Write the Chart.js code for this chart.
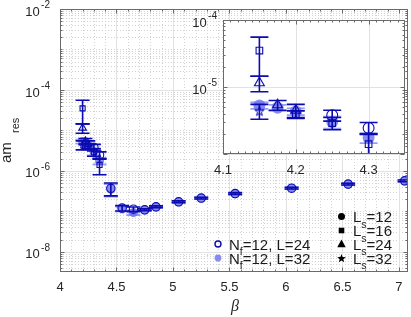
<!DOCTYPE html>
<html><head><meta charset="utf-8">
<script src="https://cdn.jsdelivr.net/npm/chart.js@4.4.1/dist/chart.umd.min.js"></script>
<style>
html,body{margin:0;padding:0;background:#fff;}
#wrap{position:relative;width:411px;height:317px;overflow:hidden;background:#fff;}
#main{position:absolute;left:0;top:0;width:411px;height:317px;}
#inset{position:absolute;left:190px;top:0;width:221px;height:185px;}
</style></head><body>
<div id="wrap"><canvas id="main" width="411" height="317"></canvas><canvas id="inset" width="221" height="185"></canvas></div>
<script>
// ---------------- data ----------------
// beta values as read on the inset axis; on the main panel the same groups sit 0.05 further right
const mainBetaOffset = 0.05;

// N_f=12, L=24 (open, dark)
const betaL24Ls12 = [4.25, 4.3, 4.4, 4.5, 4.6, 4.7, 4.8, 5.0, 5.2, 5.5, 6.0, 6.5, 7.0];
const mresL24Ls12 = [3.8e-6, 2.45e-6, 3.7e-7, 1.2e-7, 1.13e-7, 1.09e-7, 1.29e-7, 1.72e-7, 2.12e-7, 2.75e-7, 3.74e-7, 4.7e-7, 5.66e-7];
const errL24Ls12  = [0.7e-6, 0.5e-6, 1.3e-7, 1.8e-8, 1.5e-8, 0.6e-8, 0.7e-8, 0.9e-8, 1.1e-8, 1.4e-8, 1.9e-8, 2.4e-8, 2.8e-8];

const betaL24Ls16 = [4.15, 4.2, 4.25, 4.3];
const mresL24Ls16 = [3.5e-5, 3.9e-6, 2.9e-6, 1.4e-6];
const errL24Ls16  = [2.05e-5, 0.5e-6, 0.6e-6, 0.6e-6];

const betaL24Ls24 = [4.15, 4.175, 4.2];
const mresL24Ls24 = [1.15e-5, 5.4e-6, 4.5e-6];
const errL24Ls24  = [3.0e-6, 0.9e-6, 1.0e-6];

const betaL24Ls32 = [4.15];
const mresL24Ls32 = [4.4e-6];
const errL24Ls32  = [1.1e-6];

// N_f=12, L=32 (filled, light)
const betaL32 = [4.15, 4.175, 4.2, 4.25, 4.3, 4.4, 4.5, 4.6, 4.7, 4.8, 5.0, 5.2, 5.5, 6.0, 6.5, 7.0];
const mresL32 = [5.3e-6, 4.9e-6, 4.3e-6, 3.0e-6, 1.75e-6, 3.5e-7, 1.15e-7, 9.3e-8, 1.07e-7, 1.27e-7, 1.7e-7, 2.1e-7, 2.72e-7, 3.7e-7, 4.65e-7, 5.6e-7];
const errL32  = [0.6e-6, 0.5e-6, 0.5e-6, 0.6e-6, 0.3e-6, 1.2e-7, 1.5e-8, 1.2e-8, 0.5e-8, 0.6e-8, 0.8e-8, 1.0e-8, 1.3e-8, 1.8e-8, 2.2e-8, 2.6e-8];

// ticks
const mainXTicks = [4, 4.5, 5, 5.5, 6, 6.5, 7];
const mainXTickLabels = ['4', '4.5', '5', '5.5', '6', '6.5', '7'];
const mainYTicks = [1e-8, 1e-6, 1e-4, 1e-2];
const mainYTickExp = ['-8', '-6', '-4', '-2'];
const insetXTicks = [4.1, 4.2, 4.3];
const insetXTickLabels = ['4.1', '4.2', '4.3'];
const insetYTicks = [1e-5, 1e-4];
const insetYTickExp = ['-5', '-4'];

// legend texts
const seriesLegend = [['N', 'f', '=12, L=24'], ['N', 'f', '=12, L=32']];
const lsLegend = [['L', 's', '=12'], ['L', 's', '=16'], ['L', 's', '=24'], ['L', 's', '=32']];

// ---------------- styling ----------------
const DARK = '#0b0bb0';
const LIGHT = 'rgba(108,116,238,0.82)';
const LIGHT_BAR = 'rgba(108,116,238,0.7)';
const FONT = '"Liberation Sans", Arial, Helvetica, sans-serif';
const AXIS = '#6a6a6a';

function starCanvas(r, fill, stroke, lw) {
  const s = Math.ceil(2 * r + 2 * lw + 3);
  const c = document.createElement('canvas'); c.width = s; c.height = s;
  const g = c.getContext('2d');
  g.translate(s / 2, s / 2 + r * 0.1);
  g.beginPath();
  for (let i = 0; i < 10; i++) {
    const ang = -Math.PI / 2 + i * Math.PI / 5;
    const rr = i % 2 ? r * 0.4 : r;
    g.lineTo(rr * Math.cos(ang), rr * Math.sin(ang));
  }
  g.closePath();
  if (fill) { g.fillStyle = fill; g.fill(); }
  if (stroke) { g.strokeStyle = stroke; g.lineWidth = lw; g.stroke(); }
  return c;
}

function buildDatasets(shift, big) {
  const k = big ? 1.3 : 1;
  const cap = big ? 9 : 7;
  const mk = (label, b, m, e, style, r, open) => ({
    label,
    data: b.map((v, i) => ({ x: v + shift, y: m[i] })),
    errors: e,
    pointStyle: style,
    pointRadius: r * k,
    pointBorderWidth: open ? 1.1 : 0,
    pointBorderColor: open ? DARK : LIGHT,
    pointBackgroundColor: open ? 'rgba(0,0,0,0)' : LIGHT,
    showLine: false,
    barColor: open ? DARK : LIGHT_BAR,
    barWidth: open ? 1.6 : 1.8,
    capHalf: cap
  });
  return [
    mk('L24 Ls16', betaL24Ls16, mresL24Ls16, errL24Ls16, 'rect', 3.6, true),
    mk('L24 Ls24', betaL24Ls24, mresL24Ls24, errL24Ls24, 'triangle', 4.4, true),
    mk('L24 Ls32', betaL24Ls32, mresL24Ls32, errL24Ls32, starCanvas(big ? 5 : 3.8, null, DARK, 1), 4, true),
    mk('L24 Ls12', betaL24Ls12, mresL24Ls12, errL24Ls12, 'circle', 4.2, true),
    mk('L32', betaL32, mresL32, errL32, 'circle', 4.6, false)
  ];
}

const errorBarPlugin = {
  id: 'errbars',
  beforeDatasetDraw(chart, args) {
    const ds = chart.data.datasets[args.index];
    if (!ds.errors) return;
    const { ctx, chartArea: a, scales: { x, y } } = chart;
    ctx.save();
    ctx.beginPath(); ctx.rect(a.left, a.top, a.right - a.left, a.bottom - a.top); ctx.clip();
    ctx.strokeStyle = ds.barColor; ctx.lineWidth = ds.barWidth;
    ctx.beginPath();
    ds.data.forEach((p, i) => {
      const e = ds.errors[i];
      const px = x.getPixelForValue(p.x);
      const yt = y.getPixelForValue(p.y + e);
      const yb = y.getPixelForValue(Math.max(p.y - e, 1e-12));
      ctx.moveTo(px, yt); ctx.lineTo(px, yb);
      ctx.moveTo(px - ds.capHalf, yt); ctx.lineTo(px + ds.capHalf, yt);
      ctx.moveTo(px - ds.capHalf, yb); ctx.lineTo(px + ds.capHalf, yb);
    });
    ctx.stroke();
    ctx.restore();
  }
};

function logList(lo, hi) {
  const out = [];
  for (let k = Math.floor(Math.log10(lo)) - 1; k <= Math.ceil(Math.log10(hi)); k++) {
    for (let m = 1; m <= 9; m++) {
      const v = m * Math.pow(10, k);
      if (v >= lo * 0.999 && v <= hi * 1.001) out.push({ v, decade: m === 1, k });
    }
  }
  return out;
}

function drawFrame(chart, o) {
  const { ctx, chartArea: a, scales: { x, y } } = chart;
  const X = v => Math.round(x.getPixelForValue(v)) + 0.5;
  const Y = v => Math.round(y.getPixelForValue(v)) + 0.5;
  ctx.save();
  ctx.lineWidth = 1;
  if (o.minorGrid) {
    ctx.strokeStyle = '#d2d2d2'; ctx.setLineDash([1, 2]);
    ctx.beginPath();
    o.xMinor.forEach(v => { const p = X(v); ctx.moveTo(p, a.top); ctx.lineTo(p, a.bottom); });
    o.yMinor.forEach(v => { const p = Y(v); ctx.moveTo(a.left, p); ctx.lineTo(a.right, p); });
    ctx.stroke(); ctx.setLineDash([]);
  }
  ctx.strokeStyle = '#e2e2e2';
  ctx.beginPath();
  o.xMajor.forEach(v => { const p = X(v); ctx.moveTo(p, a.top); ctx.lineTo(p, a.bottom); });
  o.yMajor.forEach(v => { const p = Y(v); ctx.moveTo(a.left, p); ctx.lineTo(a.right, p); });
  ctx.stroke();
  ctx.restore();
}

function drawBoxTicks(chart, o) {
  const { ctx, chartArea: a, scales: { x, y } } = chart;
  const X = v => Math.round(x.getPixelForValue(v)) + 0.5;
  const Y = v => Math.round(y.getPixelForValue(v)) + 0.5;
  const L = Math.round(a.left) + 0.5, R = Math.round(a.right) - 0.5;
  const T = Math.round(a.top) + 0.5, B = Math.round(a.bottom) - 0.5;
  ctx.save();
  ctx.strokeStyle = AXIS; ctx.lineWidth = 1;
  ctx.beginPath();
  const tx = (v, len) => { const p = X(v); ctx.moveTo(p, B); ctx.lineTo(p, B - len); ctx.moveTo(p, T); ctx.lineTo(p, T + len); };
  const ty = (v, len) => { const p = Y(v); ctx.moveTo(L, p); ctx.lineTo(L + len, p); ctx.moveTo(R, p); ctx.lineTo(R - len, p); };
  o.xMajor.forEach(v => tx(v, o.majLen)); o.xMinor.forEach(v => tx(v, o.minLen));
  o.yMajor.forEach(v => ty(v, o.majLen)); o.yMinor.forEach(v => ty(v, o.minLen));
  ctx.stroke();
  ctx.strokeRect(L, T, R - L, B - T);
  ctx.restore();
}

function drawPow(ctx, rightX, gy, exp) {
  ctx.save();
  ctx.fillStyle = '#262626';
  ctx.textBaseline = 'middle'; ctx.textAlign = 'left';
  ctx.font = '10px ' + FONT; const ws = ctx.measureText(exp).width;
  ctx.font = '13px ' + FONT; const wb = ctx.measureText('10').width;
  const x0 = rightX - ws - wb - 1.5;
  ctx.fillText('10', x0, gy + 3);
  ctx.font = '10px ' + FONT;
  ctx.fillText(exp, x0 + wb + 1.5, gy - 4);
  ctx.restore();
}

function drawSubText(ctx, x, baseY, parts, size, subSize, subDrop) {
  ctx.textAlign = 'left'; ctx.textBaseline = 'alphabetic';
  ctx.font = size + 'px ' + FONT; ctx.fillText(parts[0], x, baseY);
  x += ctx.measureText(parts[0]).width;
  ctx.font = subSize + 'px ' + FONT; ctx.fillText(parts[1], x, baseY + subDrop);
  x += ctx.measureText(parts[1]).width;
  ctx.font = size + 'px ' + FONT; ctx.fillText(parts[2], x, baseY);
}

function shape(ctx, kind, cx, cy, s) {
  ctx.beginPath();
  if (kind === 'circle') ctx.arc(cx, cy, s, 0, Math.PI * 2);
  else if (kind === 'square') ctx.rect(cx - s, cy - s, 2 * s, 2 * s);
  else if (kind === 'triangle') { ctx.moveTo(cx, cy - s); ctx.lineTo(cx + s * 0.95, cy + s * 0.7); ctx.lineTo(cx - s * 0.95, cy + s * 0.7); ctx.closePath(); }
  else if (kind === 'star') {
    for (let i = 0; i < 10; i++) {
      const ang = -Math.PI / 2 + i * Math.PI / 5; const rr = i % 2 ? s * 0.42 : s;
      ctx.lineTo(cx + rr * Math.cos(ang), cy + s * 0.12 + rr * Math.sin(ang));
    }
    ctx.closePath();
  }
}

// ---------------- main chart ----------------
const mainX = { min: 4, max: 7.08 };
const mainY = { min: Math.pow(10, -8.5), max: 1e-2 };
const mainXMinor = []; for (let v = 41; v <= 70; v++) { if (v % 5) mainXMinor.push(v / 10); }
const mainYAll = logList(mainY.min, mainY.max);
const mainYMinor = mainYAll.filter(t => !(t.decade && t.k % 2 === 0)).map(t => t.v);
const mainOpts = { xMajor: mainXTicks, xMinor: mainXMinor, yMajor: mainYTicks, yMinor: mainYMinor, minorGrid: true, majLen: 4, minLen: 2 };

const mainFrame = {
  id: 'mainFrame',
  beforeDatasetsDraw(chart) { drawFrame(chart, mainOpts); },
  afterDatasetsDraw(chart) {
    drawBoxTicks(chart, mainOpts);
    const { ctx, chartArea: a, scales: { x, y } } = chart;
    ctx.save();
    ctx.fillStyle = '#262626';
    ctx.font = '13px ' + FONT; ctx.textAlign = 'center'; ctx.textBaseline = 'middle';
    mainXTicks.forEach((v, i) => ctx.fillText(mainXTickLabels[i], x.getPixelForValue(v), a.bottom + 15));
    mainYTicks.forEach((v, i) => drawPow(ctx, a.left - 10, y.getPixelForValue(v), mainYTickExp[i]));
    // x label
    ctx.font = 'italic 16px "Liberation Serif", serif'; ctx.textAlign = 'center'; ctx.textBaseline = 'middle';
    ctx.fillText('\u03B2', (a.left + a.right) / 2 + 1, 307);
    // y label
    ctx.save();
    ctx.translate(10.5, 163); ctx.rotate(-Math.PI / 2);
    ctx.textAlign = 'left'; ctx.textBaseline = 'alphabetic';
    ctx.font = '15px ' + FONT; ctx.fillText('am', 0, 0);
    ctx.font = '11px ' + FONT; ctx.fillText('res', 30, 8);
    ctx.restore();
    // legend: series
    ctx.lineWidth = 1.4; ctx.strokeStyle = DARK;
    shape(ctx, 'circle', 218, 244, 3); ctx.stroke();
    ctx.fillStyle = LIGHT; shape(ctx, 'circle', 218, 258, 3.4); ctx.fill();
    ctx.fillStyle = '#1a1a1a';
    drawSubText(ctx, 229, 249.5, seriesLegend[0], 15, 10.5, 5);
    drawSubText(ctx, 229, 263.5, seriesLegend[1], 15, 10.5, 5);
    // legend: Ls markers
    const kinds = ['circle', 'square', 'triangle', 'star'];
    const sizes = [3.5, 2.8, 4.5, 4.6];
    const rowsY = [216.5, 230.5, 244, 258];
    kinds.forEach((k, i) => {
      ctx.fillStyle = '#000'; shape(ctx, k, 341.5, rowsY[i], sizes[i]); ctx.fill();
      ctx.fillStyle = '#1a1a1a';
      drawSubText(ctx, 353, rowsY[i] + 5.5, lsLegend[i], 15, 10.5, 5.5);
    });
    ctx.restore();
  }
};

new Chart(document.getElementById('main'), {
  type: 'scatter',
  data: { datasets: buildDatasets(mainBetaOffset, false) },
  options: {
    responsive: false, animation: false, events: [],
    layout: { padding: { left: 60, top: 9, right: 3, bottom: 45 }, autoPadding: false },
    plugins: { legend: { display: false }, tooltip: { enabled: false } },
    scales: {
      x: { type: 'linear', min: mainX.min, max: mainX.max, display: false },
      y: { type: 'logarithmic', min: mainY.min, max: mainY.max, display: false }
    }
  },
  plugins: [errorBarPlugin, mainFrame]
});

// ---------------- inset chart ----------------
const insX = { min: 4.1, max: 4.35 };
const insY = { min: 1e-6, max: 1e-4 };
const insXMinor = []; for (let v = 411; v <= 434; v++) { if (v % 10) insXMinor.push(v / 100); }
const insYAll = logList(insY.min, insY.max);
const insYMinor = insYAll.filter(t => !t.decade).map(t => t.v);
const insOpts = { xMajor: insetXTicks, xMinor: insXMinor, yMajor: [1e-6, 1e-5, 1e-4], yMinor: insYMinor, minorGrid: false, majLen: 4, minLen: 2 };

const insetFrame = {
  id: 'insetFrame',
  beforeDatasetsDraw(chart) {
    const { ctx, chartArea: a } = chart;
    ctx.save(); ctx.fillStyle = '#fff'; ctx.fillRect(a.left, a.top, a.right - a.left, a.bottom - a.top); ctx.restore();
    drawFrame(chart, insOpts);
  },
  afterDatasetsDraw(chart) {
    drawBoxTicks(chart, insOpts);
    const { ctx, chartArea: a, scales: { x, y } } = chart;
    ctx.save();
    ctx.fillStyle = '#262626';
    ctx.font = '13px ' + FONT; ctx.textAlign = 'center'; ctx.textBaseline = 'middle';
    insetXTicks.forEach((v, i) => ctx.fillText(insetXTickLabels[i], x.getPixelForValue(v), a.bottom + 16));
    insetYTicks.forEach((v, i) => drawPow(ctx, a.left - 6, y.getPixelForValue(v), insetYTickExp[i]));
    ctx.restore();
  }
};

new Chart(document.getElementById('inset'), {
  type: 'scatter',
  data: { datasets: buildDatasets(0, true) },
  options: {
    responsive: false, animation: false, events: [],
    layout: { padding: { left: 33, top: 20, right: 6, bottom: 31 }, autoPadding: false },
    plugins: { legend: { display: false }, tooltip: { enabled: false } },
    scales: {
      x: { type: 'linear', min: insX.min, max: insX.max, display: false },
      y: { type: 'logarithmic', min: insY.min, max: insY.max, display: false }
    }
  },
  plugins: [errorBarPlugin, insetFrame]
});
</script></body></html>
